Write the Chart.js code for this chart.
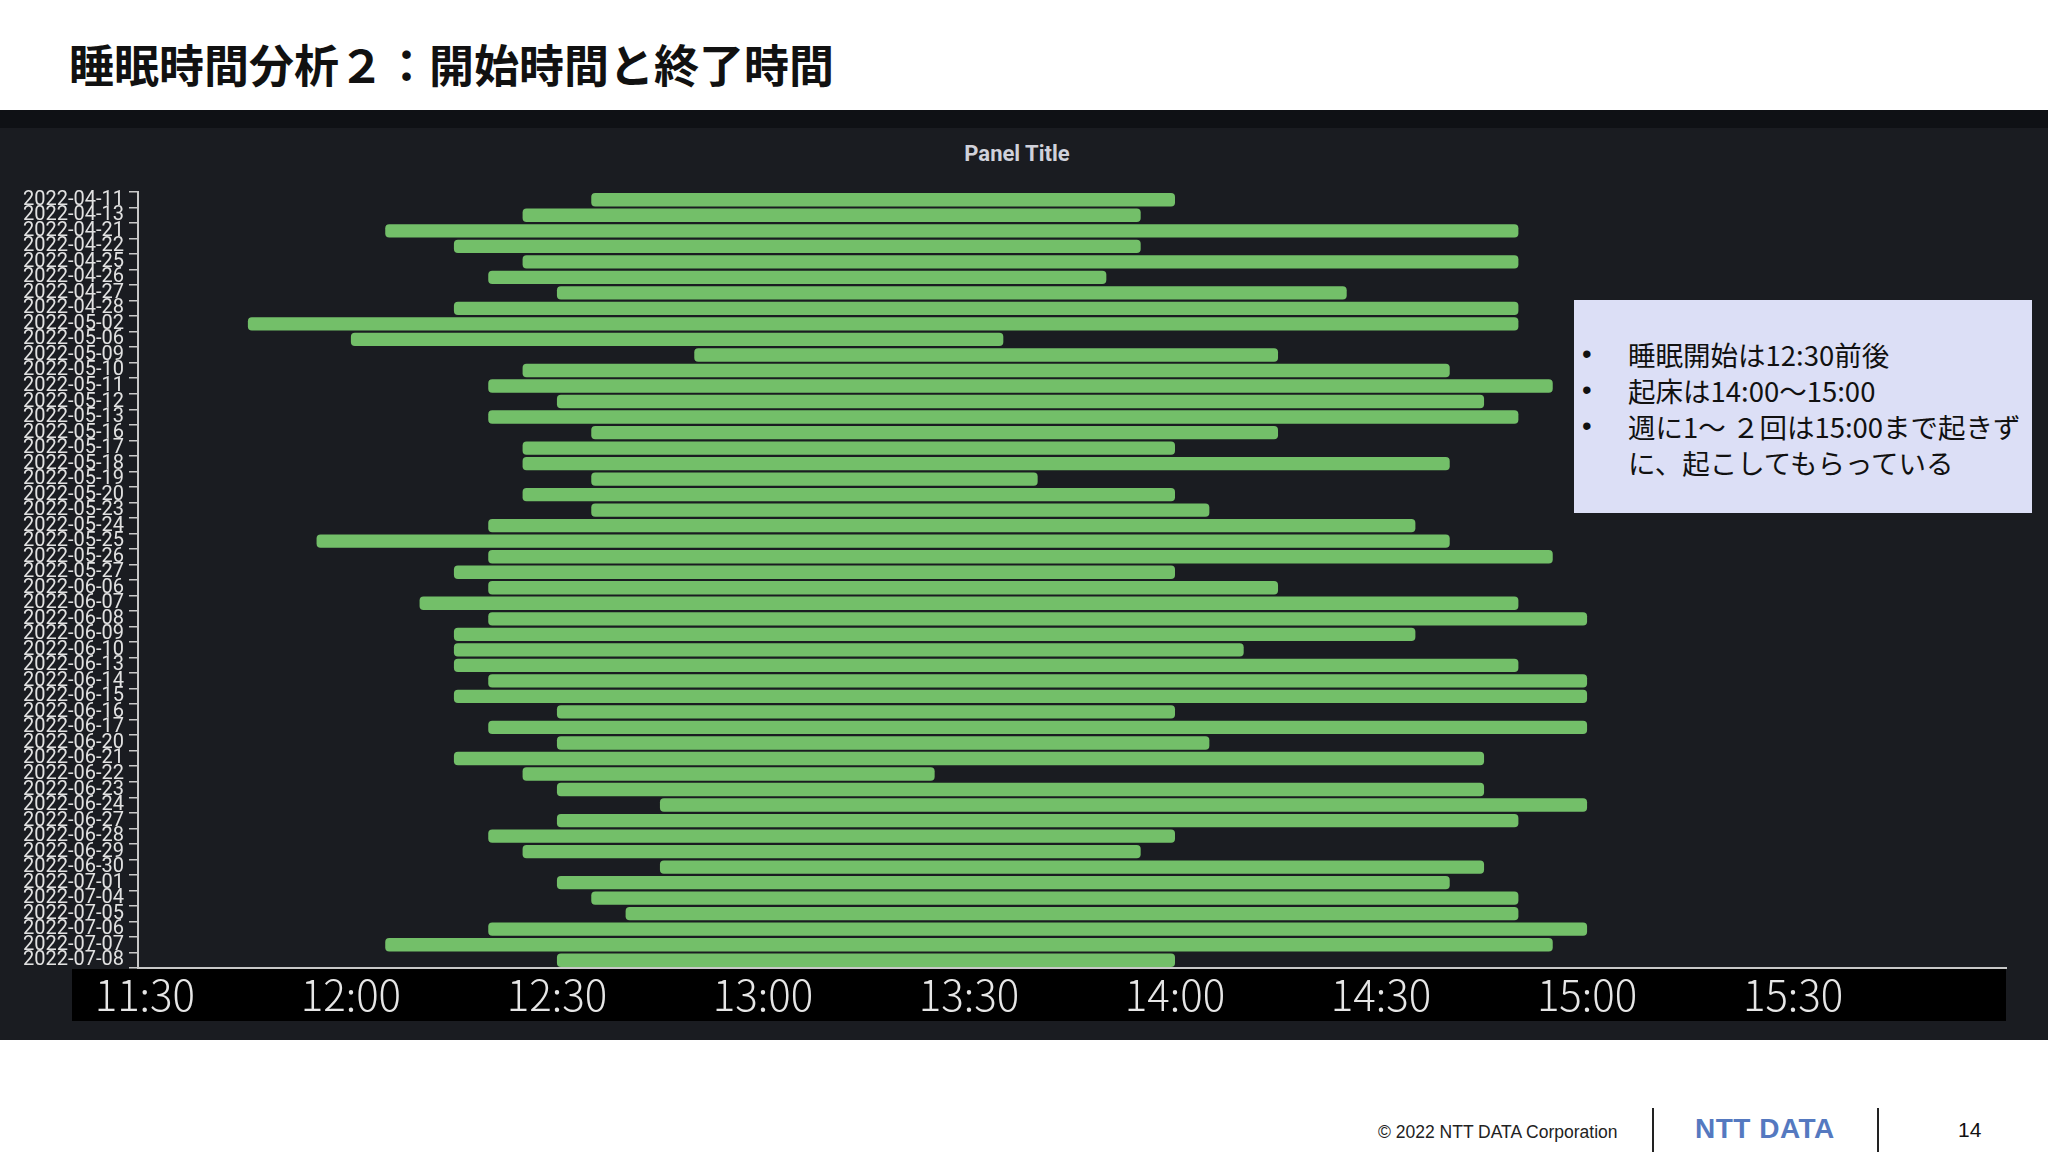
<!DOCTYPE html>
<html lang="ja">
<head>
<meta charset="utf-8">
<script src="https://cdn.jsdelivr.net/npm/chart.js@4"></script>
<style>
  body { margin:0; width:2048px; height:1152px; background:#fff; position:relative; overflow:hidden; font-family:"Noto Sans CJK JP", sans-serif; }
  #titulo { position:absolute; left:69px; top:34px; font-size:45px; font-weight:700; color:#111; line-height:60px; letter-spacing:0; }
  #franja { position:absolute; left:0; top:110px; width:2048px; height:18px; background:#0f1115; }
  #panel { position:absolute; left:0; top:128px; width:2048px; height:912px; background:#1a1c21; }
  #panelTitulo { position:absolute; left:0; top:141px; width:2034px; text-align:center; font-family:Roboto, sans-serif; font-weight:700; font-size:22px; color:#d0d1da; }
  #grafica { position:absolute; left:0; top:128px; }
  #nota { position:absolute; left:1574px; top:300px; width:458px; height:213px; background:#dcdff6; box-sizing:border-box; padding:36px 0 0 0; }
  #nota ul { margin:0; padding:0; list-style:none; }
  #nota li { position:relative; padding-left:54px; font-size:27.5px; line-height:36px; color:#111; white-space:nowrap; }
  #nota li.bala:before { content:"•"; position:absolute; left:8px; top:0; font-family:"Liberation Sans", sans-serif; }
  #copy { position:absolute; left:1378px; top:1122px; font-family:"Liberation Sans", Arial, sans-serif; font-size:17.5px; color:#222; }
  .linea { position:absolute; top:1108px; width:2px; height:44px; background:#222; }
  #logo { position:absolute; left:1695px; top:1113px; font-family:"Liberation Sans", Arial, sans-serif; font-weight:700; font-size:28px; letter-spacing:0.5px; color:#5579c0; }
  #pagina { position:absolute; left:1958px; top:1118px; font-family:"Liberation Sans", Arial, sans-serif; font-size:21px; color:#111; }
</style>
</head>
<body>
<div id="titulo">睡眠時間分析２：開始時間と終了時間</div>
<div id="franja"></div>
<div id="panel"></div>
<div id="panelTitulo">Panel Title</div>
<canvas id="grafica" width="2048" height="912"></canvas>
<div id="nota">
  <ul>
    <li class="bala">睡眠開始は12:30前後</li>
    <li class="bala">起床は14:00～15:00</li>
    <li class="bala">週に1～ ２回は15:00まで起きず</li>
    <li>に、起こしてもらっている</li>
  </ul>
</div>
<div id="copy">© 2022 NTT DATA Corporation</div>
<div class="linea" style="left:1652px"></div>
<div id="logo">NTT DATA</div>
<div class="linea" style="left:1877px"></div>
<div id="pagina">14</div>

<script>
var fechas = ['2022-04-11','2022-04-13','2022-04-21','2022-04-22','2022-04-25','2022-04-26','2022-04-27','2022-04-28',
  '2022-05-02','2022-05-06','2022-05-09','2022-05-10','2022-05-11','2022-05-12','2022-05-13','2022-05-16','2022-05-17',
  '2022-05-18','2022-05-19','2022-05-20','2022-05-23','2022-05-24','2022-05-25','2022-05-26','2022-05-27',
  '2022-06-06','2022-06-07','2022-06-08','2022-06-09','2022-06-10','2022-06-13','2022-06-14','2022-06-15','2022-06-16',
  '2022-06-17','2022-06-20','2022-06-21','2022-06-22','2022-06-23','2022-06-24','2022-06-27','2022-06-28','2022-06-29',
  '2022-06-30','2022-07-01','2022-07-04','2022-07-05','2022-07-06','2022-07-07','2022-07-08'];

var inicio = ['12:35','12:25','12:05','12:15','12:25','12:20','12:30','12:15','11:45','12:00',
  '12:50','12:25','12:20','12:30','12:20','12:35','12:25','12:25','12:35','12:25',
  '12:35','12:20','11:55','12:20','12:15','12:20','12:10','12:20','12:15','12:15',
  '12:15','12:20','12:15','12:30','12:20','12:30','12:15','12:25','12:30','12:45',
  '12:30','12:20','12:25','12:45','12:30','12:35','12:40','12:20','12:05','12:30'];

var fin = ['14:00','13:55','14:50','13:55','14:50','13:50','14:25','14:50','14:50','13:35',
  '14:15','14:40','14:55','14:45','14:50','14:15','14:00','14:40','13:40','14:00',
  '14:05','14:35','14:40','14:55','14:00','14:15','14:50','15:00','14:35','14:10',
  '14:50','15:00','15:00','14:00','15:00','14:05','14:45','13:25','14:45','15:00',
  '14:50','14:00','13:55','14:45','14:40','14:50','14:50','15:00','14:55','14:00'];

var etiquetasX = ['11:30','12:00','12:30','13:00','13:30','14:00','14:30','15:00','15:30'];
var ejeMin = '11:29', ejeMax = '16:01';

function aMinutos(hhmm){
    let p = hhmm.split(':');
    return parseInt(p[0])*60 + parseInt(p[1]);
}
function aHora(m){
    let h = Math.floor(m/60), mm = m%60;
    return h + ':' + (mm<10 ? '0'+mm : mm);
}

var barras = [];
for(var i=0;i<fechas.length;i++){
    barras.push([aMinutos(inicio[i]), aMinutos(fin[i])]);
}

// franja negra bajo el eje x
const bandaNegra = {
    id: 'bandaNegra',
    beforeDraw(chart){
        const ctx = chart.ctx, a = chart.chartArea;
        ctx.save();
        ctx.fillStyle = '#000';
        ctx.fillRect(72, a.bottom + 1, a.right - 72, 52);
        ctx.restore();
    }
};

const ctx = document.getElementById('grafica').getContext('2d');
const chart = new Chart(ctx, {
    type: 'bar',
    data: {
        labels: fechas,
        datasets: [{
            data: barras,
            backgroundColor: '#73bf69',
            borderWidth: 0,
            borderRadius: 4,
            borderSkipped: false,
            barPercentage: 0.86,
            categoryPercentage: 1
        }]
    },
    options: {
        indexAxis: 'y',
        responsive: false,
        animation: false,
        devicePixelRatio: 1,
        layout: { padding: { left: 0, right: 42, top: 64, bottom: 19 } },
        plugins: {
            legend: { display: false },
            tooltip: { enabled: false },
            title: { display: false }
        },
        scales: {
            x: {
                type: 'linear',
                min: aMinutos(ejeMin),
                max: aMinutos(ejeMax),
                afterBuildTicks: function(scale){
                    scale.ticks = etiquetasX.map(t => ({ value: aMinutos(t) }));
                },
                afterFit: function(scale){ scale.height = 53; },
                ticks: {
                    autoSkip: false,
                    maxRotation: 0,
                    padding: 2,
                    color: '#e6e6e6',
                    font: { family: '"Noto Sans CJK JP", sans-serif', size: 42, weight: 300, lineHeight: 1.2 },
                    callback: v => aHora(v)
                },
                grid: { display: false, drawTicks: false },
                border: { display: true, color: '#c8c8c8', width: 2 }
            },
            y: {
                afterFit: function(scale){ scale.width = 138; },
                ticks: {
                    autoSkip: false,
                    padding: 5,
                    color: '#e2e2e2',
                    font: { family: '"Liberation Sans Narrow", Roboto, sans-serif', size: 20, lineHeight: 1 }
                },
                grid: { display: true, drawOnChartArea: false, drawTicks: true, tickLength: 9, color: '#c8c8c8', lineWidth: 1.5 },
                border: { display: true, color: '#c8c8c8', width: 2 }
            }
        }
    },
    plugins: [bandaNegra]
});
</script>
</body>
</html>
